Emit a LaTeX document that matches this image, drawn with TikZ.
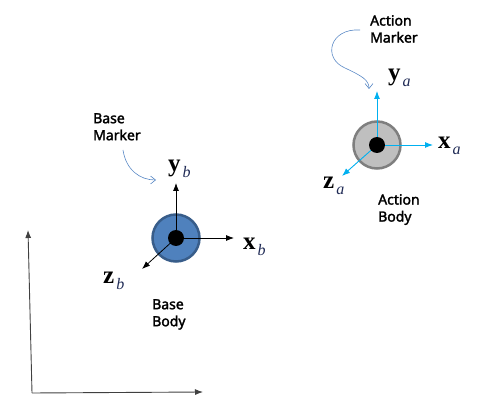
\documentclass[tikz,border=0pt]{standalone}
\usepackage{fontspec}
\setmainfont{Liberation Serif}
\newfontfamily\notefont[FakeBold=2]{Noto Sans}
\usetikzlibrary{arrows.meta}

\definecolor{baseblue}{HTML}{4F81BD}
\definecolor{baseedge}{HTML}{385D8A}
\definecolor{actfill}{HTML}{BFBFBF}
\definecolor{actedge}{HTML}{7F7F7F}
\definecolor{actblue}{HTML}{00B0F0}
\definecolor{subnavy}{HTML}{1F2A55}
\definecolor{curveblue}{HTML}{5B8AC6}

% bold axis letter with italic subscript
\newcommand{\axlabel}[2]{{\fontsize{25}{25}\selectfont\bfseries #1}\kern2pt\raisebox{-6pt}{\fontsize{16}{16}\selectfont\itshape\color{subnavy}#2}}

\begin{document}
\begin{tikzpicture}[
  x=1pt,y=-1pt,
  body/.style={circle, line width=2.5pt, minimum size=47pt, inner sep=0pt},
  pin/.style={circle, fill=black, minimum size=16pt, inner sep=0pt},
  frameaxis/.style={-{Latex[length=8pt,width=6pt]}, draw=black!75, line width=0.9pt},
  baseaxis/.style={-{Latex[length=8pt,width=6pt]}, draw=black, line width=0.8pt},
  actaxis/.style={-{Latex[length=8pt,width=6pt]}, draw=actblue, line width=0.9pt},
  axname/.style={inner sep=0pt, anchor=base west},
  note/.style={font=\notefont\fontsize{14}{17}\selectfont, align=left, inner sep=0pt, anchor=north west},
  markcurve/.style={-{Straight Barb[length=5pt,width=8pt]}, draw=curveblue, line width=0.6pt}
]
  \useasboundingbox (0,0) rectangle (491,409);

  % ground frame
  \coordinate (org) at (32,393);
  \coordinate (orgx) at (203,392);
  \coordinate (orgy) at (28,230);
  \draw[frameaxis] (org) -- (orgx);
  \draw[frameaxis] (org) -- (orgy);

  % base body and marker
  \node[body, fill=baseblue, draw=baseedge] (bbody) at (176,238) {};
  \coordinate (byend) at (176,183);
  \coordinate (bxend) at (234,238);
  \coordinate (bzend) at (142,269);
  \draw[baseaxis] (bbody.center) -- (byend);
  \draw[baseaxis] (bbody.center) -- (bxend);
  \draw[baseaxis] (bbody.center) -- (bzend);
  \node[pin] (bpin) at (bbody.center) {};

  \node[axname] (byname) at (168,172) {\axlabel{y}{b}};
  \node[axname] (bxname) at (243,250) {\axlabel{x}{b}};
  \node[axname] (bzname) at (103,284) {\axlabel{z}{b}};

  \node[note] (bmark) at (93,113) {Base\\Marker};
  \node[note] (bbodytxt) at (152,299) {Base\\Body};
  \coordinate (bmfrom) at (123,150);
  \coordinate (bmto) at (156,180);
  \draw[markcurve] (bmfrom) .. controls (126,170) and (140,180) .. (bmto);

  % action body and marker
  \node[body, fill=actfill, draw=actedge] (abody) at (377,145) {};
  \coordinate (ayend) at (377,91);
  \coordinate (axend) at (433,145);
  \coordinate (azend) at (342,176);
  \draw[actaxis] (abody.center) -- (ayend);
  \draw[actaxis] (abody.center) -- (axend);
  \draw[actaxis] (abody.center) -- (azend);
  \node[pin] (apin) at (abody.center) {};

  \node[axname] (ayname) at (388,81) {\axlabel{y}{a}};
  \node[axname] (axname) at (438,149) {\axlabel{x}{a}};
  \node[axname] (azname) at (323,189) {\axlabel{z}{a}};

  \node[note] (amark) at (370,15) {Action\\Marker};
  \node[note] (abodytxt) at (378,194) {Action\\Body};
  \coordinate (amfrom) at (360,30);
  \coordinate (amto) at (369,89);
  \draw[markcurve] (amfrom) .. controls (330,28) and (322,58) .. (345,68)
    .. controls (362,76) and (369,80) .. (amto);
\end{tikzpicture}
\end{document}
